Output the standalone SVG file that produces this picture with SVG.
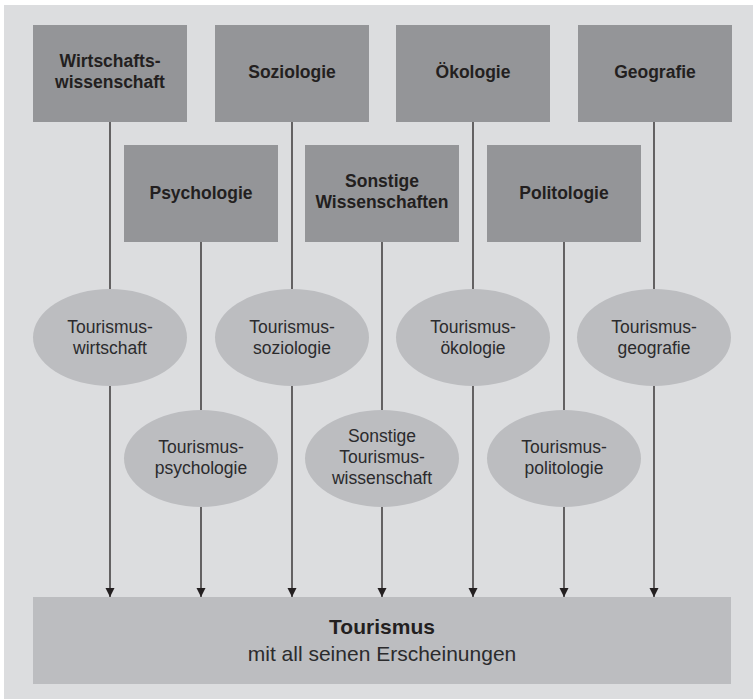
<svg xmlns="http://www.w3.org/2000/svg" width="753" height="699" viewBox="0 0 753 699">
<style>
.bg{fill:#dcdddf}
.box{fill:#949598}
.ell{fill:#bcbdc0}
.base{fill:#bcbdc0}
.bt{font-family:"Liberation Sans",Arial,sans-serif;font-weight:bold;font-size:17.5px;fill:#231f20;text-anchor:middle}
.et{font-family:"Liberation Sans",Arial,sans-serif;font-size:17.5px;fill:#2b2b2d;text-anchor:middle}
.ln{stroke:#231f20;stroke-width:1.3;fill:none}
.arr{stroke:#231f20;stroke-width:1.3;fill:none;marker-end:url(#ah)}
</style>
<defs>
<marker id="ah" markerUnits="userSpaceOnUse" markerWidth="9" markerHeight="10" refX="9" refY="4.5" orient="auto" viewBox="0 0 9 9">
<path d="M0,0 L9,4.5 L0,9 z" fill="#231f20"/>
</marker>
</defs>
<rect class="bg" x="4" y="5" width="749" height="694"/>
<g id="connectors">
<line class="ln" x1="110" y1="122" x2="110" y2="289"/>
<line class="arr" x1="110" y1="386" x2="110" y2="597"/>
<line class="ln" x1="292" y1="122" x2="292" y2="289"/>
<line class="arr" x1="292" y1="386" x2="292" y2="597"/>
<line class="ln" x1="473" y1="122" x2="473" y2="289"/>
<line class="arr" x1="473" y1="386" x2="473" y2="597"/>
<line class="ln" x1="654" y1="122" x2="654" y2="289"/>
<line class="arr" x1="654" y1="386" x2="654" y2="597"/>
<line class="ln" x1="201" y1="242" x2="201" y2="410"/>
<line class="arr" x1="201" y1="507" x2="201" y2="597"/>
<line class="ln" x1="382" y1="242" x2="382" y2="410"/>
<line class="arr" x1="382" y1="507" x2="382" y2="597"/>
<line class="ln" x1="564" y1="242" x2="564" y2="410"/>
<line class="arr" x1="564" y1="507" x2="564" y2="597"/>
</g>
<g id="wirtschaftswissenschaft"><rect class="box" x="33" y="25" width="154" height="97"/><text class="bt" x="110" y="67">Wirtschafts-</text><text class="bt" x="110" y="88">wissenschaft</text></g>
<g id="soziologie"><rect class="box" x="215" y="25" width="154" height="97"/><text class="bt" x="292" y="78">Soziologie</text></g>
<g id="oekologie"><rect class="box" x="396" y="25" width="154" height="97"/><text class="bt" x="473" y="78">Ökologie</text></g>
<g id="geografie"><rect class="box" x="578" y="25" width="154" height="97"/><text class="bt" x="655" y="78">Geografie</text></g>
<g id="psychologie"><rect class="box" x="124" y="145" width="154" height="97"/><text class="bt" x="201" y="199">Psychologie</text></g>
<g id="sonstige"><rect class="box" x="305" y="145" width="154" height="97"/><text class="bt" x="382" y="187">Sonstige</text><text class="bt" x="382" y="208">Wissenschaften</text></g>
<g id="politologie"><rect class="box" x="487" y="145" width="154" height="97"/><text class="bt" x="564" y="199">Politologie</text></g>
<g id="t-wirtschaft"><ellipse class="ell" cx="110" cy="337.5" rx="77" ry="48.5"/><text class="et" x="110" y="333">Tourismus-</text><text class="et" x="110" y="354">wirtschaft</text></g>
<g id="t-soziologie"><ellipse class="ell" cx="292" cy="337.5" rx="77" ry="48.5"/><text class="et" x="292" y="333">Tourismus-</text><text class="et" x="292" y="354">soziologie</text></g>
<g id="t-oekologie"><ellipse class="ell" cx="473" cy="337.5" rx="77" ry="48.5"/><text class="et" x="473" y="333">Tourismus-</text><text class="et" x="473" y="354">ökologie</text></g>
<g id="t-geografie"><ellipse class="ell" cx="654" cy="337.5" rx="77" ry="48.5"/><text class="et" x="654" y="333">Tourismus-</text><text class="et" x="654" y="354">geografie</text></g>
<g id="t-psychologie"><ellipse class="ell" cx="201" cy="458.5" rx="77" ry="48.5"/><text class="et" x="201" y="453">Tourismus-</text><text class="et" x="201" y="474">psychologie</text></g>
<g id="t-sonstige"><ellipse class="ell" cx="382" cy="458.5" rx="77" ry="48.5"/><text class="et" x="382" y="442">Sonstige</text><text class="et" x="382" y="463">Tourismus-</text><text class="et" x="382" y="484">wissenschaft</text></g>
<g id="t-politologie"><ellipse class="ell" cx="564" cy="458.5" rx="77" ry="48.5"/><text class="et" x="564" y="453">Tourismus-</text><text class="et" x="564" y="474">politologie</text></g>
<g id="tourismus"><rect class="base" x="33" y="597" width="698" height="87"/><text class="bt" x="382" y="634" style="font-size:21px">Tourismus</text><text class="et" x="382" y="661" style="font-size:21px">mit all seinen Erscheinungen</text></g>
</svg>
